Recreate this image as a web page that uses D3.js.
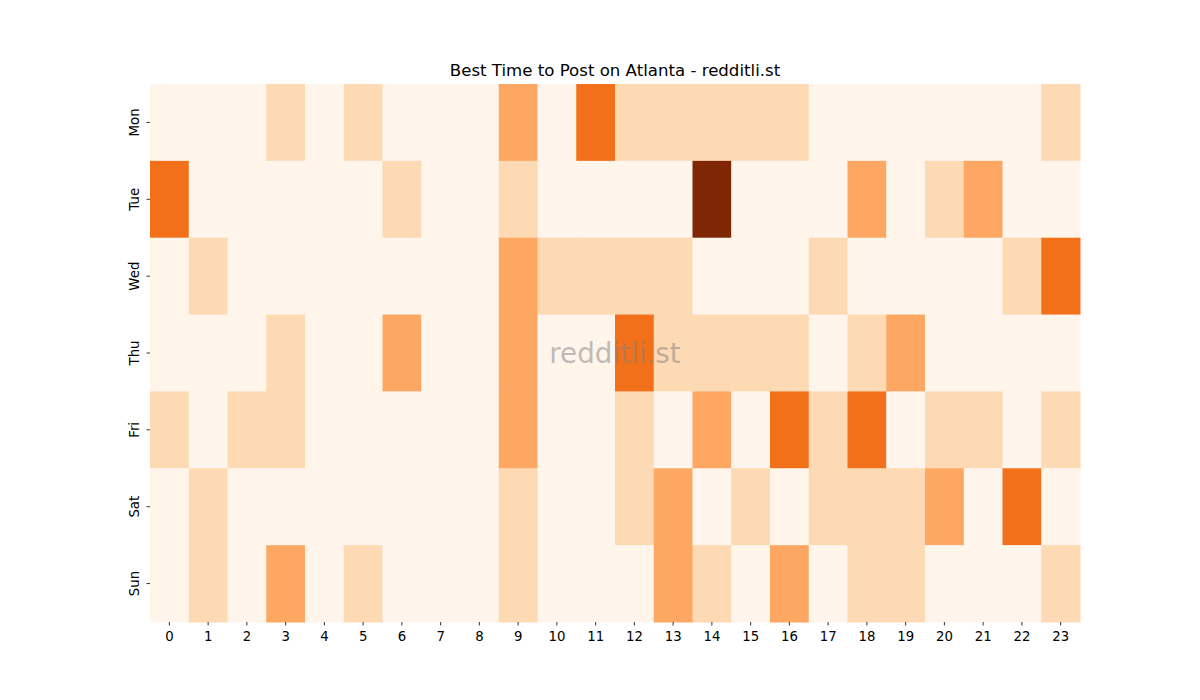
<!DOCTYPE html>
<html lang="en">
<head>
<meta charset="UTF-8">
<script src="https://cdn.jsdelivr.net/npm/d3@7.8.5/dist/d3.min.js"></script>
<title>Best Time to Post on Atlanta</title>
<style>
    body { margin: 0; background: #fff; }
    svg text { font-family: "DejaVu Sans", sans-serif; fill: #000; }
</style>
</head>
<body>
<svg width="1200" height="700"></svg>
<script>
// data
var days = ["Mon", "Tue", "Wed", "Thu", "Fri", "Sat", "Sun"];
var hours = d3.range(24);
var mon = [0,0,0,1,0,1,0,0,0,2,0,3,1,1,1,1,1,0,0,0,0,0,0,1];
var tue = [3,0,0,0,0,0,1,0,0,1,0,0,0,0,5,0,0,0,2,0,1,2,0,0];
var wed = [0,1,0,0,0,0,0,0,0,2,1,1,1,1,0,0,0,1,0,0,0,0,1,3];
var thu = [0,0,0,1,0,0,2,0,0,2,0,0,3,1,1,1,1,0,1,2,0,0,0,0];
var fri = [1,0,1,1,0,0,0,0,0,2,0,0,1,0,2,0,3,1,3,0,1,1,0,1];
var sat = [0,1,0,0,0,0,0,0,0,1,0,0,1,2,0,1,0,1,1,1,2,0,3,0];
var sun = [0,1,0,2,0,1,0,0,0,1,0,0,0,2,1,0,2,0,1,1,0,0,0,1];
var rows = [mon, tue, wed, thu, fri, sat, sun];

var cells = [];
rows.forEach(function(r, i) {
    r.forEach(function(v, h) { cells.push({day: days[i], hour: h, value: v}); });
});

var svg = d3.select("svg");
var marginLeft = 150, marginTop = 84, width = 930, height = 538;
var g = svg.append("g").attr("transform", "translate(" + marginLeft + "," + marginTop + ")");

var x = d3.scaleBand().domain(hours).range([0, width]);
var y = d3.scaleBand().domain(days).range([0, height]);

// matplotlib Oranges, linear between the 9 stops
var oranges = ["#fff5eb","#fee6ce","#fdd0a2","#fdae6b","#fd8d3c","#f16913","#d94801","#a63603","#7f2704"];
var vmax = d3.max(cells, function(d) { return d.value; });
var color = d3.scaleLinear()
    .domain(oranges.map(function(c, i) { return vmax * i / (oranges.length - 1); }))
    .range(oranges);

g.selectAll("rect.cell")
    .data(cells)
    .enter().append("rect")
    .attr("class", "cell")
    .attr("x", function(d) { return x(d.hour); })
    .attr("y", function(d) { return y(d.day); })
    .attr("width", x.bandwidth() + 0.5)
    .attr("height", y.bandwidth() + 0.5)
    .attr("fill", function(d) { return color(d.value); });

var xAxis = g.append("g")
    .attr("transform", "translate(0," + height + ")")
    .call(d3.axisBottom(x).tickSize(3.5).tickPadding(5));
var yAxis = g.append("g")
    .call(d3.axisLeft(y).tickSize(3.5).tickPadding(5));

[xAxis, yAxis].forEach(function(a) {
    a.select(".domain").remove();
    a.selectAll("line").attr("stroke", "#000").attr("stroke-width", 0.8);
    a.selectAll("text").style("font-size", "13.3px").style("font-family", "DejaVu Sans, sans-serif");
});
xAxis.selectAll("text").attr("y", 10).attr("dy", "0.71em");
yAxis.selectAll("text")
    .attr("transform", "rotate(-90,-11,0)")
    .attr("x", -11)
    .attr("dy", "0")
    .style("text-anchor", "middle");

svg.append("text")
    .attr("x", marginLeft + width / 2)
    .attr("y", 76)
    .attr("text-anchor", "middle")
    .style("font-size", "16.6px")
    .text("Best Time to Post on Atlanta - redditli.st");

svg.append("text")
    .attr("x", marginLeft + width / 2)
    .attr("y", 363)
    .attr("text-anchor", "middle")
    .style("font-size", "27.8px")
    .style("fill", "#808080")
    .style("fill-opacity", 0.5)
    .text("redditli.st");
</script>
</body>
</html>
